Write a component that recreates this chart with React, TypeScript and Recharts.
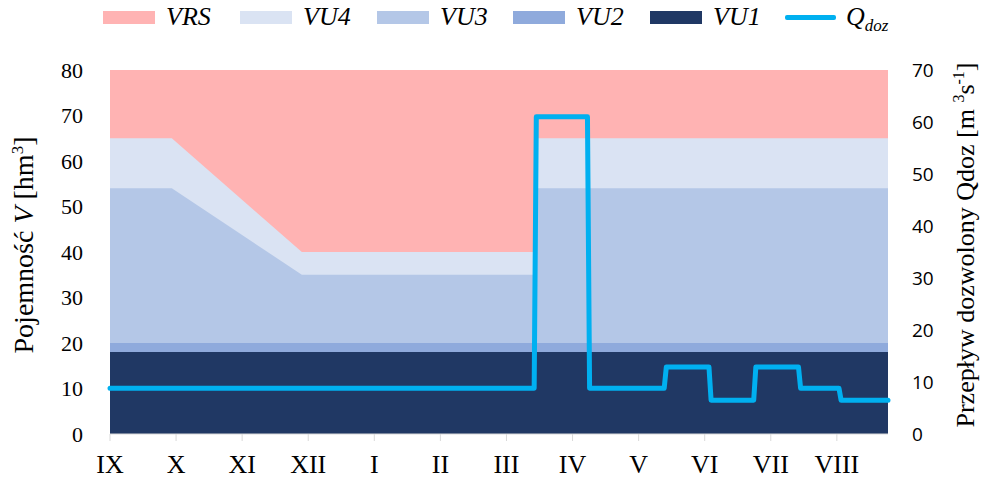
import React from 'react'
import { ComposedChart, Area, Line, XAxis, YAxis } from 'recharts'

// breakpoints (day of hydrological year, IX = day 0)
const DAYS = [0, 29, 90, 199, 200, 224, 225, 260, 261, 281, 282, 302, 303, 323, 324, 342, 343, 365]
const VRS_TOP = [80, 80, 80, 80, 80, 80, 80, 80, 80, 80, 80, 80, 80, 80, 80, 80, 80, 80]
const VU4_TOP = [65, 65, 40, 40, 65, 65, 65, 65, 65, 65, 65, 65, 65, 65, 65, 65, 65, 65]
const VU3_TOP = [54, 54, 35, 35, 54, 54, 54, 54, 54, 54, 54, 54, 54, 54, 54, 54, 54, 54]
const VU2_TOP = [20, 20, 20, 20, 20, 20, 20, 20, 20, 20, 20, 20, 20, 20, 20, 20, 20, 20]
const VU1_TOP = [18, 18, 18, 18, 18, 18, 18, 18, 18, 18, 18, 18, 18, 18, 18, 18, 18, 18]
const Q_DOZ = [8.8, 8.8, 8.8, 8.8, 61, 61, 8.8, 8.8, 12.9, 12.9, 6.5, 6.5, 12.9, 12.9, 8.8, 8.8, 6.5, 6.5]

const MONTH_TICKS = [0, 31, 62, 93, 124, 155, 186, 217, 248, 279, 310, 341]
const MONTH_LABELS = ['IX', 'X', 'XI', 'XII', 'I', 'II', 'III', 'IV', 'V', 'VI', 'VII', 'VIII']

const COLORS = {
    vrs: '#ffb3b3',
    vu4: '#dae3f3',
    vu3: '#b4c7e7',
    vu2: '#8faadc',
    vu1: '#203864',
    q: '#00b0f0'
}

const data = DAYS.map((d, i) => ({
    day: d,
    vrs: VRS_TOP[i],
    vu4: VU4_TOP[i],
    vu3: VU3_TOP[i],
    vu2: VU2_TOP[i],
    vu1: VU1_TOP[i],
    q: Q_DOZ[i]
}))

const SERIF = "'Liberation Serif', 'Times New Roman', Tinos, serif"

const legendItems = [
    { key: 'vrs', label: 'VRS', left: 103 },
    { key: 'vu4', label: 'VU4', left: 240 },
    { key: 'vu3', label: 'VU3', left: 377 },
    { key: 'vu2', label: 'VU2', left: 513 },
    { key: 'vu1', label: 'VU1', left: 650 }
]

function ChartLegend() {
    const text: React.CSSProperties = {
        position: 'absolute', top: 2, fontFamily: SERIF, fontStyle: 'italic', fontSize: 26, lineHeight: '30px',
        whiteSpace: 'nowrap'
    }
    return (
        <div style={{ position: 'absolute', left: 0, top: 0, width: 982, height: 36 }}>
            {legendItems.map(it => (
                <React.Fragment key={it.key}>
                    <div style={{ position: 'absolute', left: it.left, top: 11, width: 52, height: 13, background: (COLORS as any)[it.key] }} />
                    <div style={{ ...text, left: it.left + 63 }}>{it.label}</div>
                </React.Fragment>
            ))}
            <div style={{ position: 'absolute', left: 785, top: 15, width: 51, height: 5, borderRadius: 2, background: COLORS.q }} />
            <div style={{ ...text, left: 846 }}>Q<sub style={{ fontSize: 17, verticalAlign: -6 }}>doz</sub></div>
        </div>
    )
}

export default function App() {
    return (
        <div style={{ position: 'absolute', left: 0, top: 0, width: 982, height: 479, background: '#fff' }}>
            <ChartLegend />
            <ComposedChart width={982} height={479} data={data} margin={{ top: 70, right: 0, bottom: 0, left: 0 }}>
                <XAxis
                    dataKey="day"
                    type="number"
                    domain={[0, 365]}
                    ticks={MONTH_TICKS}
                    tickFormatter={(v) => MONTH_LABELS[MONTH_TICKS.indexOf(v)]}
                    height={45}
                    stroke="#d9d9d9"
                    tickSize={7}
                    tickMargin={14}
                    tick={{ fill: '#000', fontFamily: SERIF, fontSize: 26 }}
                />
                <YAxis
                    yAxisId="v"
                    domain={[0, 80]}
                    ticks={[0, 10, 20, 30, 40, 50, 60, 70, 80]}
                    width={110}
                    axisLine={false}
                    tickLine={false}
                    tickMargin={21}
                    tick={{ fill: '#000', fontFamily: SERIF, fontSize: 22 }}
                    label={{
                        content: () => (
                            <text transform="translate(33,245) rotate(-90)" textAnchor="middle" fontFamily={SERIF} fontSize={28} fill="#000">
                                Pojemność <tspan fontStyle="italic">V</tspan> [hm<tspan dy={-10} fontSize={17}>3</tspan><tspan dy={10}>]</tspan>
                            </text>
                        )
                    }}
                />
                <YAxis
                    yAxisId="q"
                    orientation="right"
                    domain={[0, 70]}
                    ticks={[0, 10, 20, 30, 40, 50, 60, 70]}
                    width={94}
                    axisLine={false}
                    tickLine={false}
                    tickMargin={18}
                    tick={{ fill: '#000', fontFamily: "'Open Sans', sans-serif", fontSize: 19 }}
                    label={{
                        content: () => (
                            <text transform="translate(974,245) rotate(-90)" textAnchor="middle" fontFamily={SERIF} fontSize={26} fill="#000">
                                Przepływ dozwolony Qdoz [m <tspan dy={-10} fontSize={16}>3</tspan><tspan dy={10}>s</tspan><tspan dy={-10} fontSize={16}>-1</tspan><tspan dy={10}>]</tspan>
                            </text>
                        )
                    }}
                />
                <Area yAxisId="v" dataKey="vrs" type="linear" stroke="none" fill={COLORS.vrs} fillOpacity={1} isAnimationActive={false} />
                <Area yAxisId="v" dataKey="vu4" type="linear" stroke="none" fill={COLORS.vu4} fillOpacity={1} isAnimationActive={false} />
                <Area yAxisId="v" dataKey="vu3" type="linear" stroke="none" fill={COLORS.vu3} fillOpacity={1} isAnimationActive={false} />
                <Area yAxisId="v" dataKey="vu2" type="linear" stroke="none" fill={COLORS.vu2} fillOpacity={1} isAnimationActive={false} />
                <Area yAxisId="v" dataKey="vu1" type="linear" stroke="none" fill={COLORS.vu1} fillOpacity={1} isAnimationActive={false} />
                <Line yAxisId="q" dataKey="q" type="linear" stroke={COLORS.q} strokeWidth={5} dot={false} strokeLinejoin="round" strokeLinecap="round" isAnimationActive={false} />
            </ComposedChart>
        </div>
    )
}
